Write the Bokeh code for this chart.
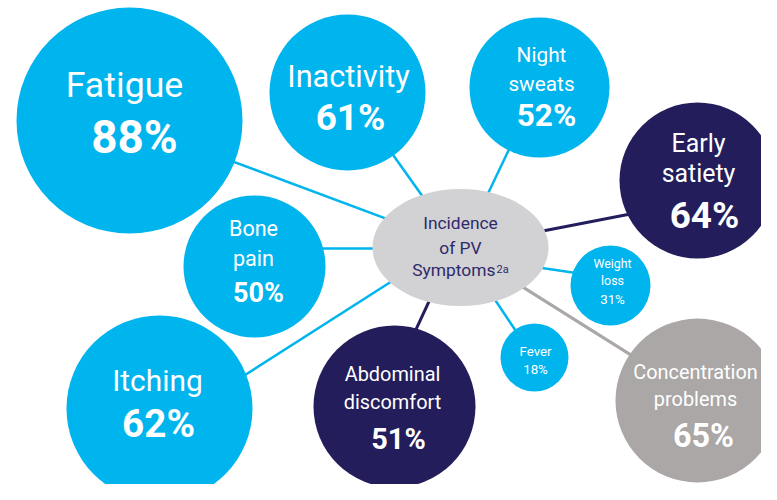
import numpy as np
from bokeh.plotting import figure
from bokeh.models import Range1d
from bokeh.core.properties import value
from bokeh.embed import file_html
from bokeh.resources import INLINE

# ---- data ----
symptoms = ["Fatigue", "Inactivity", "Night\nsweats", "Early\nsatiety", "Bone\npain",
            "Itching", "Abdominal\ndiscomfort", "Concentration\nproblems",
            "Weight\nloss", "Fever"]
incidence = [88, 61, 52, 64, 50, 62, 51, 65, 31, 18]
center_label = ["Incidence", "of PV", "Symptoms"]
center_sup = "2a"

# ---- layout (image pixel coordinates) ----
BLUE = "#00b4ee"
NAVY = "#231d5b"
GRAY = "#aaa7a6"
cx = [129, 347, 539, 697, 254, 159, 394, 697, 610, 534]
cy = [120, 92, 87, 180, 266, 408, 406, 400, 285, 357]
rad = [113, 78, 70, 78, 71, 93, 81, 82, 40, 34]
fill = [BLUE, BLUE, BLUE, NAVY, BLUE, BLUE, NAVY, GRAY, BLUE, BLUE]
# label: x, first line centre, line step, font size ; pct: x, centre, size, bold
lab_x = [124, 348, 541, 698, 253, 157, 392, 695, 612, 535]
lab_y0 = [84, 75.5, 54, 143, 227.5, 380, 373.5, 371.5, 262.5, 351]
lab_step = [0, 0, 29, 30, 30, 0, 28, 27, 17, 0]
lab_size = [43, 37, 25, 30, 26, 36, 24, 24, 15, 16]
pct_x = [134, 350, 546, 704, 258, 158, 398, 703, 612, 535]
pct_y = [136.5, 117, 114.5, 215, 292.5, 422.5, 438.5, 435, 299, 368.5]
pct_size = [51, 41, 35, 41, 30, 43, 32, 36, 16, 16]
pct_bold = [True] * 8 + [False, False]

# connector segments (visible ends), colour
seg_a = [(235, 162), (393, 155), (508, 150), (545, 230), (323, 248),
         (247, 373), (415, 330), (572, 272), (515, 330), (628, 353)]
seg_b = [(385, 218), (420, 193), (488, 192), (622, 215), (375, 248),
         (380, 288), (428, 302), (545, 268), (495, 300), (523, 287)]
seg_col = [BLUE, BLUE, BLUE, NAVY, BLUE, BLUE, NAVY, BLUE, BLUE, GRAY]

ell_x, ell_y, ell_w, ell_h = 460, 247, 176, 117
ELL = "#d2d1d3"
CTXT = "#2e2a6b"
FONT = "Roboto"
REG = 0.83   # Roboto is wider than the narrow face of the original
BOLD = 0.9

p = figure(width=761, height=484, x_range=Range1d(0, 761), y_range=Range1d(484, 0),
           output_backend="svg", toolbar_location=None, min_border=0)
p.axis.visible = False
p.grid.visible = False
p.outline_line_color = None
p.background_fill_color = "white"

# connectors, extended so ends tuck under shapes
xs, ys = [], []
for (ax, ay), (bx, by) in zip(seg_a, seg_b):
    d = np.array([bx - ax, by - ay], float)
    d /= np.hypot(*d)
    xs.append([ax - 12 * d[0], bx + 12 * d[0]])
    ys.append([ay - 12 * d[1], by + 12 * d[1]])
p.multi_line(xs, ys, line_color=seg_col, line_width=[2.5 if c == BLUE else 3 for c in seg_col])

# bubbles
p.circle(x=cx, y=cy, radius=rad, fill_color=fill, line_color=None)
p.ellipse(x=[ell_x], y=[ell_y], width=[ell_w], height=[ell_h], fill_color=ELL, line_color=None)

# bubble labels
for i, lab in enumerate(symptoms):
    lines = lab.split("\n")
    s = lab_size[i] * REG
    for k, ln in enumerate(lines):
        p.text(x=[lab_x[i]], y=[lab_y0[i] + k * lab_step[i]], text=[ln],
               text_font=value(FONT), text_font_size=f"{s:.1f}px",
               text_color="white", text_align="center", text_baseline="middle")
    sp = pct_size[i] * (BOLD if pct_bold[i] else REG)
    p.text(x=[pct_x[i]], y=[pct_y[i]], text=[f"{incidence[i]}%"],
           text_font=value(FONT), text_font_size=f"{sp:.1f}px",
           text_font_style="bold" if pct_bold[i] else "normal",
           text_color="white", text_align="center", text_baseline="middle")

# centre text
cmid = [222.5, 247.5, 269.5]
cs = 21 * REG
for k, ln in enumerate(center_label[:2]):
    p.text(x=[460], y=[cmid[k]], text=[ln], text_font=value(FONT), text_font_size=f"{cs:.1f}px",
           text_color=CTXT, text_align="center", text_baseline="middle")
p.text(x=[495], y=[cmid[2]], text=[center_label[2]], text_font=value(FONT), text_font_size=f"{cs:.1f}px",
       text_color=CTXT, text_align="right", text_baseline="middle")
p.text(x=[496], y=[cmid[2] - 1], text=[center_sup], text_font=value(FONT), text_font_size="11px",
       text_color=CTXT, text_align="left", text_baseline="middle")

open("out.html", "w").write(file_html(p, INLINE))
